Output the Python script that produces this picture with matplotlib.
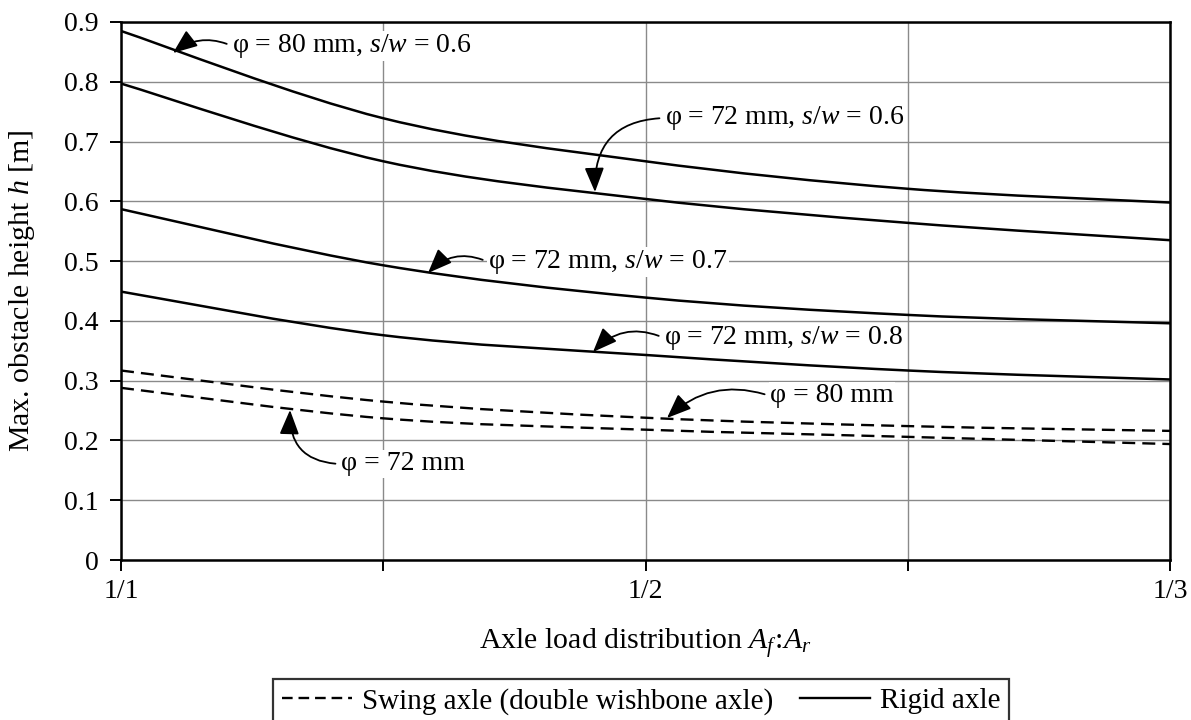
import matplotlib
matplotlib.use("Agg")
import matplotlib.pyplot as plt
from matplotlib.path import Path
from matplotlib.patches import PathPatch
from matplotlib.lines import Line2D

plt.rcParams['font.family'] = ['Liberation Serif', 'DejaVu Serif']
plt.rcParams['mathtext.fontset'] = 'custom'
plt.rcParams['mathtext.rm'] = 'Liberation Serif'
plt.rcParams['mathtext.it'] = 'Liberation Serif:italic'

# ---- data (at the grid positions) ----
x_pos = [0, 0.5, 1.0, 1.5, 2.0]
rigid_80_06 = [0.885, 0.739, 0.667, 0.621, 0.598]
rigid_72_06 = [0.797, 0.667, 0.604, 0.564, 0.535]
rigid_72_07 = [0.587, 0.493, 0.439, 0.410, 0.396]
rigid_72_08 = [0.449, 0.376, 0.343, 0.317, 0.302]
swing_80 = [0.317, 0.265, 0.238, 0.224, 0.216]
swing_72 = [0.288, 0.237, 0.218, 0.206, 0.194]
x_ticks = [0, 0.5, 1.0, 1.5, 2.0]
x_ticklabels = ['1/1', '', '1/2', '', '1/3']
y_ticks = [0, 0.1, 0.2, 0.3, 0.4, 0.5, 0.6, 0.7, 0.8, 0.9]
y_ticklabels = ['0', '0.1', '0.2', '0.3', '0.4', '0.5', '0.6', '0.7', '0.8', '0.9']
legend_labels = ['Swing axle (double wishbone axle)', 'Rigid axle']


def smooth_path(xs, ys):
    """Catmull-Rom style cubic Bezier through the data points (Excel-like smoothed line)."""
    pts = list(zip(xs, ys))
    n = len(pts)
    verts = [pts[0]]
    codes = [Path.MOVETO]
    for i in range(n - 1):
        p0 = pts[i - 1] if i > 0 else pts[i]
        p1 = pts[i]
        p2 = pts[i + 1]
        p3 = pts[i + 2] if i + 2 < n else pts[i + 1]
        c1 = (p1[0] + (p2[0] - p0[0]) / 6, p1[1] + (p2[1] - p0[1]) / 6)
        c2 = (p2[0] - (p3[0] - p1[0]) / 6, p2[1] - (p3[1] - p1[1]) / 6)
        verts += [c1, c2, p2]
        codes += [Path.CURVE4] * 3
    return Path(verts, codes)


fig = plt.figure(figsize=(11.91, 7.2), dpi=100)
ax = fig.add_axes([121/1191, 1-560/720, (1170-121)/1191, (560-22)/720])

for ys in [rigid_80_06, rigid_72_06, rigid_72_07, rigid_72_08]:
    ax.add_patch(PathPatch(smooth_path(x_pos, ys), fill=False, edgecolor='black',
                           lw=1.8, capstyle='butt', zorder=3))
for ys in [swing_80, swing_72]:
    ax.add_patch(PathPatch(smooth_path(x_pos, ys), fill=False, edgecolor='black',
                           lw=1.7, linestyle=(0, (5.5, 3.0)), capstyle='butt', zorder=3))

ax.set_xlim(0, 2)
ax.set_ylim(0, 0.9)
ax.set_xticks(x_ticks)
ax.set_xticklabels(x_ticklabels)
ax.set_yticks(y_ticks)
ax.set_yticklabels(y_ticklabels)
ax.grid(True, color='#8a8a8a', lw=1.0)
ax.set_axisbelow(True)
for s in ax.spines.values():
    s.set_linewidth(1.8)
    s.set_zorder(4)
ax.tick_params(direction='out', length=8, width=1.4, labelsize=20, color='black')
ax.tick_params(axis='y', pad=8)
ax.tick_params(axis='x', pad=6)

ax.set_xlabel('Axle load distribution $A_f\\!:\\!A_r$', fontsize=21.5)
ax.xaxis.set_label_coords(0.5, (560-643)/538)
ax.xaxis.label.set_va('center')
ax.set_ylabel('Max. obstacle height $h$ [m]', fontsize=21.5)
ax.yaxis.set_label_coords((22-121)/1049, 0.5)
ax.yaxis.label.set_va('center')

fs = 20
bb = dict(facecolor='white', edgecolor='none', pad=1.0)


def ap(rad):
    return dict(arrowstyle='-|>,head_length=0.75,head_width=0.3', color='black', lw=1.3,
                connectionstyle=f'arc3,rad={rad}', shrinkA=3, shrinkB=0, relpos=(0, 0.5))


def ix(px):
    return (px - 121) / (1170 - 121) * 2


def iy(py):
    return (560 - py) / 538 * 0.9


ax.annotate('φ = 80 mm, $s/w$ = 0.6', xy=(ix(173), iy(53)), xytext=(ix(232), iy(46)),
            fontsize=fs, va='center', ha='left', bbox=bb, arrowprops=ap(0.3), zorder=5)
ax.annotate('φ = 72 mm, $s/w$ = 0.6', xy=(ix(595), iy(192)), xytext=(ix(665), iy(118)),
            fontsize=fs, va='center', ha='left', bbox=bb, arrowprops=ap(0.5), zorder=5)
ax.annotate('φ = 72 mm, $s/w$ = 0.7', xy=(ix(428), iy(273)), xytext=(ix(488), iy(262)),
            fontsize=fs, va='center', ha='left', bbox=bb, arrowprops=ap(0.35), zorder=5)
ax.annotate('φ = 72 mm, $s/w$ = 0.8', xy=(ix(593), iy(352)), xytext=(ix(664), iy(338)),
            fontsize=fs, va='center', ha='left', bbox=bb, arrowprops=ap(0.35), zorder=5)
ax.annotate('φ = 80 mm', xy=(ix(667), iy(418)), xytext=(ix(770), iy(396)),
            fontsize=fs, va='center', ha='left', bbox=bb, arrowprops=ap(0.3), zorder=5)
ax.annotate('φ = 72 mm', xy=(ix(290), iy(410)), xytext=(ix(341), iy(464)),
            fontsize=fs, va='center', ha='left', bbox=bb, arrowprops=ap(-0.5), zorder=5)

handles = [Line2D([], [], color='black', lw=1.7, linestyle=(0, (4.5, 2.5))),
           Line2D([], [], color='black', lw=1.7)]
leg = fig.legend(handles, legend_labels,
                 loc='upper center', bbox_to_anchor=(641/1191, 1-679/720), ncol=2,
                 fontsize=21, frameon=True, fancybox=False, handlelength=2.4,
                 columnspacing=0.9, handletextpad=0.35, borderpad=0.3, borderaxespad=0)
leg.get_frame().set_edgecolor('black')
leg.get_frame().set_linewidth(1.6)

fig.savefig('out.png', dpi=100)
